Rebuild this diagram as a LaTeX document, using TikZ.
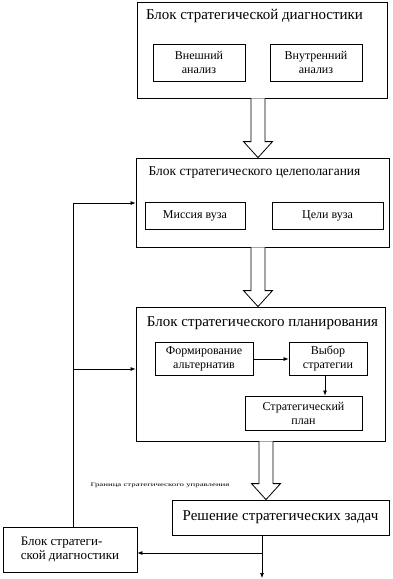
\documentclass[tikz,border=0pt]{standalone}
\usepackage{fontspec}
\usepackage{graphicx}
\setmainfont{Liberation Serif}
\usetikzlibrary{arrows.meta, positioning, calc}

\tikzset{
  block/.style={draw, line width=0.8pt, inner sep=0pt},
  subbox/.style={draw, line width=0.8pt, align=center, inner sep=0pt,
                 font=\fontsize{12}{14}\selectfont},
  bigarrow/.style={draw, line width=0.8pt, fill=white},
  feed/.style={line width=0.7pt, -{Latex[length=5pt, width=4pt]}},
}

% hollow block arrow: #1 = x of axis, #2 = source node, #3 = target node
\newcommand{\blockarrow}[3]{%
  \draw[bigarrow] (#1-7,0 |- #2.south) -- ($(#1-7,0 |- #3.north)+(0,-16)$)
    -- ($(#1-14.5,0 |- #3.north)+(0,-16)$) -- (#1,0 |- #3.north)
    -- ($(#1+14.5,0 |- #3.north)+(0,-16)$) -- ($(#1+7,0 |- #3.north)+(0,-16)$)
    -- (#1+7,0 |- #2.south);}

\begin{document}
\begin{tikzpicture}[x=1pt, y=-1pt]
  \useasboundingbox (0,0) rectangle (392,579);

  % diagnostics block
  \node[block, minimum width=250pt, minimum height=96pt] (diag) at (262,50) {};
  \node[font=\fontsize{15}{17}\selectfont] (diagtitle) at (254.5,16)
      {Блок стратегической диагностики};
  \node[subbox, minimum width=92pt, minimum height=37pt] (extan) at (199,62.5)
      {Внешний\\анализ};
  \node[subbox, minimum width=92pt, minimum height=37pt] (intan) at (316,62.5)
      {Внутренний\\анализ};

  % goal setting block
  \node[block, minimum width=253pt, minimum height=89pt] (goal) at (262.5,202.5) {};
  \node[font=\fontsize{13.5}{15}\selectfont] (goaltitle) at (254.5,173)
      {Блок стратегического целеполагания};
  \node[subbox, minimum width=100pt, minimum height=27pt] (mission) at (195,215.5)
      {Миссия вуза};
  \node[subbox, minimum width=111pt, minimum height=27pt] (aims) at (327.5,215.5)
      {Цели вуза};

  % planning block
  \node[block, minimum width=249pt, minimum height=134pt] (plan) at (260.5,374) {};
  \node[font=\fontsize{15}{17}\selectfont] (plantitle) at (262.5,323)
      {Блок стратегического планирования};
  \node[subbox, minimum width=98pt, minimum height=33pt] (altern) at (204,358.5)
      {Формирование\\альтернатив};
  \node[subbox, minimum width=78pt, minimum height=33pt] (choice) at (328,358.5)
      {Выбор\\стратегии};
  \node[subbox, minimum width=117pt, minimum height=34pt] (splan) at (303.5,413)
      {Стратегический\\план};
  \draw[feed] (altern.east |- 0,359) -- (choice.west |- 0,359);
  \draw[feed] (325,0 |- choice.south) -- (325,0 |- splan.north);

  % tasks and repeated diagnostics
  \node[block, minimum width=217pt, minimum height=35pt,
        font=\fontsize{15}{17}\selectfont] (solve) at (280.5,517.5)
      {Решение стратегических задач};
  \node[block, minimum width=134pt, minimum height=45pt, align=left,
        font=\fontsize{13}{14}\selectfont] (rediag) at (70,549.5)
      {Блок стратеги-\\ской диагностики};
  \node[font=\fontsize{5.5}{6}\selectfont] (border) at (160,485)
      {\scalebox{1.6}[1]{Граница стратегического управления}};

  % block arrows
  \blockarrow{258}{diag}{goal}
  \blockarrow{258}{goal}{plan}
  \blockarrow{266}{plan}{solve}

  % feedback loop
  \coordinate (fbtop) at (73,203);
  \coordinate (fbmid) at (73,369);
  \coordinate (split) at (262,553);
  \coordinate (exit) at (262,578);
  \draw[line width=0.7pt] (73,0 |- rediag.north) -- (fbtop);
  \draw[feed] (fbtop) -- (goal.west |- fbtop);
  \draw[feed] (fbmid) -- (plan.west |- fbmid);
  \draw[feed] (split |- solve.south) -- (exit);
  \draw[feed] (split) -- (rediag.east |- split);
\end{tikzpicture}
\end{document}
